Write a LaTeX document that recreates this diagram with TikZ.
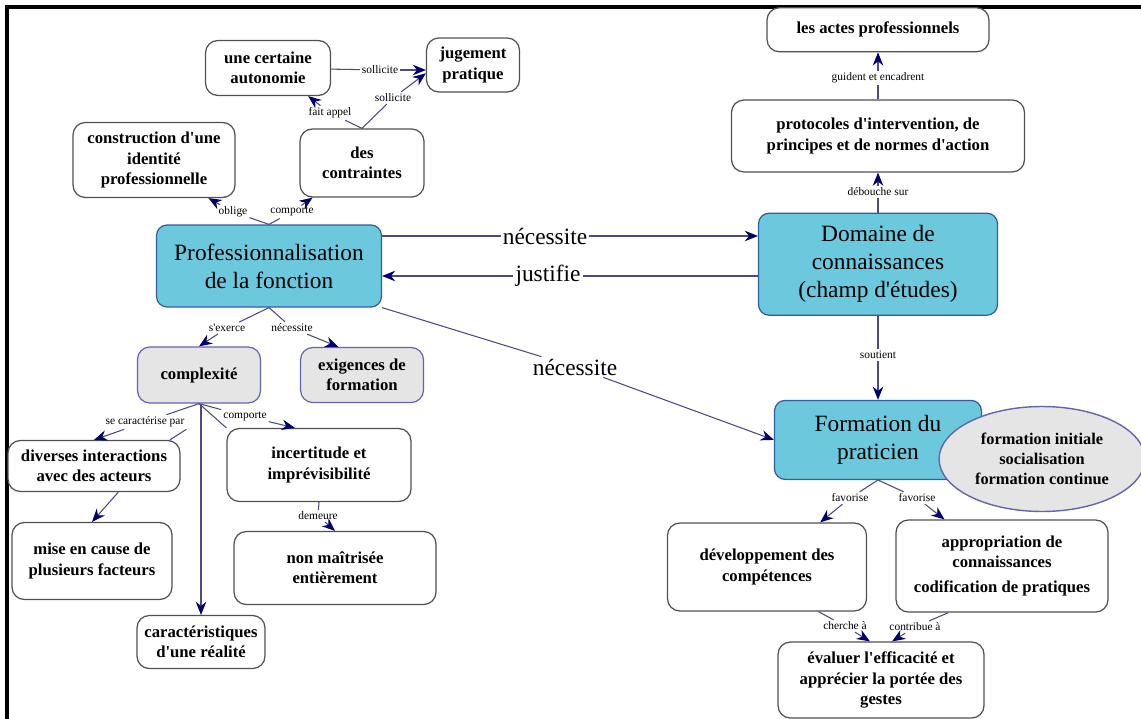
\documentclass[tikz,border=0pt]{standalone}
\usepackage{fontspec}
\setmainfont{Liberation Serif}[Ligatures=TeXOff]
\usetikzlibrary{shapes.geometric,arrows.meta,positioning}
\definecolor{cmapblue}{RGB}{108,200,221}
\definecolor{cmapedge}{RGB}{52,92,160}
\definecolor{cmapgrey}{RGB}{229,229,229}
\definecolor{cmappurple}{RGB}{100,100,175}
\definecolor{cmapline}{RGB}{80,80,80}
\definecolor{cmaplink}{RGB}{75,75,130}
\definecolor{cmaptip}{RGB}{0,0,110}

\begin{document}
\begin{tikzpicture}[
    x=0.02cm, y=-0.02cm,
    concept/.style={rectangle, draw=cmapline, fill=white, rounded corners=7pt, align=center, inner sep=2pt, line width=0.7pt, font=\bfseries\fontsize{9.5}{11.5}\selectfont},
    mainbox/.style={concept, draw=cmapedge, fill=cmapblue, rounded corners=6pt, font=\fontsize{13.3}{16}\selectfont},
    greybox/.style={concept, draw=cmappurple, fill=cmapgrey},
    lbl/.style={font=\fontsize{6.5}{7}\selectfont, inner sep=1pt},
    biglbl/.style={font=\fontsize{13.3}{15}\selectfont, inner sep=1pt},
    link/.style={draw=cmaplink, line width=0.6pt},
    arrow/.style={link, -{Stealth[length=7.5pt, width=6pt, color=cmaptip]}}
]
    \path[fill=white, use as bounding box] (0,0) rectangle (1141,719);
    \draw[line width=2.2pt] (7,719) -- (7,7) -- (1141,7);

    % left part
    \node[concept, minimum width=2.5cm, minimum height=1.1cm] (autonomie) at (268,68) {une certaine\\autonomie};
    \node[concept, minimum width=1.86cm, minimum height=1.08cm] (jugement) at (473,65) {jugement\\pratique};
    \node[concept, minimum width=3.24cm, minimum height=1.5cm] (identite) at (154,160) {construction d'une\\identité\\professionnelle};
    \node[concept, minimum width=2.48cm, minimum height=1.36cm] (contraintes) at (362,163) {des\\contraintes};
    \node[mainbox, minimum width=4.5cm, minimum height=1.64cm] (prof) at (269,266) {Professionnalisation\\de la fonction};
    \node[greybox, minimum width=2.46cm, minimum height=1.12cm] (complexite) at (199,375) {complexité};
    \node[greybox, minimum width=2.46cm, minimum height=1.1cm] (exigences) at (362,375) {exigences de\\formation};
    \node[concept, minimum width=3.44cm, minimum height=1.02cm] (interactions) at (94,466) {diverses interactions\\avec des acteurs};
    \node[concept, minimum width=3.2cm, minimum height=1.54cm] (facteurs) at (92,561) {mise en cause de\\plusieurs facteurs};
    \node[concept, minimum width=3.68cm, minimum height=1.46cm] (incertitude) at (319,465) {incertitude et\\imprévisibilité};
    \node[concept, minimum width=4.04cm, minimum height=1.46cm] (maitrise) at (335,568) {non maîtrisée\\entièrement};
    \node[concept, minimum width=2.56cm, minimum height=1.06cm] (realite) at (201,642) {caractéristiques\\d'une réalité};

    % right part
    \node[concept, minimum width=5.86cm, minimum height=1.44cm] (protocoles) at (878,136) {protocoles d'intervention, de\\principes et de normes d'action};
    \node[concept, minimum width=4.44cm, minimum height=0.88cm, above=0.94cm of protocoles] (actes) {les actes professionnels};
    \node[mainbox, minimum width=4.78cm, minimum height=2.04cm, below=0.8cm of protocoles] (domaine) {Domaine de\\connaissances\\(champ d'études)};
    \node[mainbox, minimum width=4.14cm, minimum height=1.58cm, below=1.68cm of domaine] (praticien) {Formation du\\praticien};
    \node[ellipse, draw=cmappurple, fill=cmapgrey, line width=0.8pt, minimum width=3.9cm, minimum height=2.1cm, align=center, font=\bfseries\fontsize{9.3}{11.5}\selectfont] (parcours) at (1042,459) {formation initiale\\socialisation\\formation continue};
    \node[concept, minimum width=3.98cm, minimum height=1.76cm] (competences) at (767,567) {développement des\\compétences};
    \node[concept, minimum width=4.24cm, minimum height=1.84cm] (savoirs) at (1002,566) {appropriation de\\connaissances\\[3pt]codification de pratiques};
    \node[concept, minimum width=4.12cm, minimum height=1.52cm] (evaluer) at (881,680) {évaluer l'efficacité et\\apprécier la portée des\\gestes};

    % link labels
    \node[lbl] (sollicite1) at (380,70) {sollicite};
    \node[lbl] (sollicite2) at (393,98) {sollicite};
    \node[lbl] (appel) at (330,113) {fait appel};
    \node[lbl] (oblige) at (233,212) {oblige};
    \node[lbl] (comporte1) at (292,212) {comporte};
    \node[biglbl] (necessite1) at (545,236) {nécessite};
    \node[biglbl] (justifie) at (548,276) {justifie};
    \node[biglbl] (necessite2) at (575,367) {nécessite};
    \node[lbl] (exerce) at (227,328) {s'exerce};
    \node[lbl] (necessite3) at (292,328) {nécessite};
    \node[lbl] (caracterise) at (145,422) {se caractérise par};
    \node[lbl] (comporte2) at (245,416) {comporte};
    \node[lbl] (demeure) at (318,516) {demeure};
    \node[lbl] (guident) at (878,78) {guident et encadrent};
    \node[lbl] (debouche) at (878,192) {débouche sur};
    \node[lbl] (soutient) at (878,355) {soutient};
    \node[lbl] (favorise1) at (850,498) {favorise};
    \node[lbl] (favorise2) at (917,498) {favorise};
    \node[lbl] (cherche) at (845,626) {cherche à};
    \node[lbl] (contribue) at (915,627) {contribue à};

    % links
    \draw[link] (autonomie) -- (sollicite1);
    \draw[arrow] (sollicite1) -- (jugement.west |- sollicite1);
    \draw[link] (contraintes.north) -- (sollicite2);
    \draw[arrow] (sollicite2) -- (jugement.190);
    \draw[link] (contraintes.north) -- (appel);
    \draw[arrow] (appel) -- (autonomie.-35);
    \draw[link] (prof.north) -- (oblige);
    \draw[arrow] (oblige) -- (identite.-35);
    \draw[link] (prof.north) -- (comporte1);
    \draw[arrow] (comporte1) -- (contraintes.215);
    \draw[link] (prof.east |- necessite1) -- (necessite1);
    \draw[arrow] (necessite1) -- (domaine.west |- necessite1);
    \draw[link] (domaine.west |- justifie) -- (justifie);
    \draw[arrow] (justifie) -- (prof.east |- justifie);
    \draw[link] (prof.south east) -- (necessite2);
    \draw[arrow] (necessite2) -- (praticien.west);
    \draw[link] (prof.south) -- (exerce);
    \draw[arrow] (exerce) -- (complexite.north);
    \draw[link] (prof.south) -- (necessite3);
    \draw[arrow] (necessite3) -- (exigences.130);
    \draw[link] (complexite.south) -- (caracterise);
    \draw[arrow] (caracterise) -- (interactions.north);
    \draw[link] (interactions.19) -- (caracterise.south east);
    \draw[link] (complexite.south) -- (comporte2);
    \draw[arrow] (comporte2) -- (incertitude.123);
    \draw[link] (incertitude.north west) -- (complexite.south);
    \draw[arrow] (complexite.south -| realite.north) -- (realite.north);
    \draw[arrow] (interactions.-47) -- (facteurs.north);
    \draw[link] (incertitude.south) -- (demeure);
    \draw[arrow] (demeure) -- (maitrise.north);
    \draw[link] (domaine.north) -- (debouche);
    \draw[arrow] (debouche) -- (protocoles.south);
    \draw[link] (protocoles.north) -- (guident);
    \draw[arrow] (guident) -- (actes.south);
    \draw[link] (domaine.south) -- (soutient);
    \draw[arrow] (soutient) -- (praticien.north);
    \draw[link] (praticien.south) -- (favorise1);
    \draw[arrow] (favorise1) -- (competences.40);
    \draw[link] (praticien.south) -- (favorise2);
    \draw[arrow] (favorise2) -- (savoirs.141);
    \draw[link] (competences.-41) -- (cherche);
    \draw[arrow] (cherche) -- (evaluer.106);
    \draw[link] (savoirs.221) -- (contribue);
    \draw[arrow] (contribue) -- (evaluer.74);
\end{tikzpicture}
\end{document}
